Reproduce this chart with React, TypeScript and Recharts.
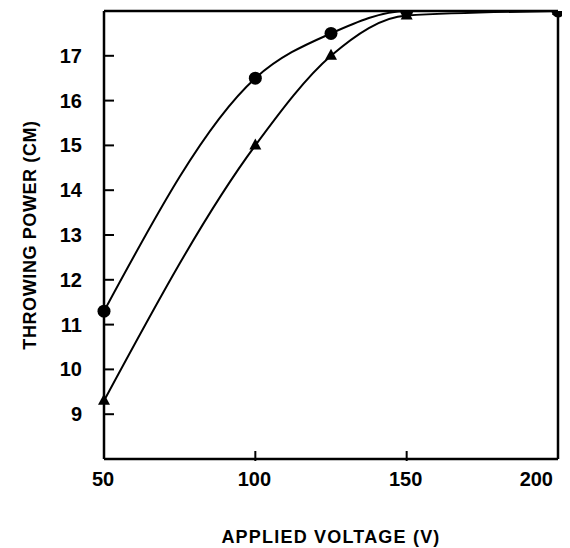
import { LineChart, Line, XAxis, YAxis, ReferenceLine } from "recharts";

const voltage = [50, 100, 125, 150, 200];
const circleSeries = [11.3, 16.5, 17.5, 18, 18];
const triangleSeries = [9.3, 15.0, 17.0, 17.9, 18];
const xTicks = [50, 100, 150, 200];
const yTicks = [9, 10, 11, 12, 13, 14, 15, 16, 17];

const data = voltage.map((v, i) => ({
  v,
  circle: circleSeries[i],
  triangle: triangleSeries[i],
}));

const FONT = "'Liberation Sans', Arial, sans-serif";
const TICK_GAP = 22;

const YTick = ({ x, y, payload }: any) => (
  <g>
    <line
      x1={x + TICK_GAP}
      x2={x + TICK_GAP + 10}
      y1={y}
      y2={y}
      stroke="#000"
      strokeWidth={2}
    />
    <text
      x={x}
      y={y}
      textAnchor="end"
      dominantBaseline="central"
      fontFamily={FONT}
      fontWeight="bold"
      fontSize={20}
      fill="#000"
    >
      {payload.value}
    </text>
  </g>
);

const XTick = ({ x, y, payload }: any) => {
  const last = payload.value === xTicks[xTicks.length - 1];
  return (
    <g>
      {payload.value !== 50 && !last && (
        <line
          x1={x}
          x2={x}
          y1={y}
          y2={y - 10}
          stroke="#000"
          strokeWidth={2}
        />
      )}
      <text
        x={last ? x + 3 : x - 1}
        y={y + 18}
        textAnchor={last ? "end" : "middle"}
        dominantBaseline="central"
        fontFamily={FONT}
        fontWeight="bold"
        fontSize={20}
        fill="#000"
      >
        {payload.value}
      </text>
    </g>
  );
};

const YLabel = ({ viewBox }: any) => {
  const cx = viewBox.x + 22;
  const cy = viewBox.y + viewBox.height / 2;
  return (
    <text
      x={cx}
      y={cy}
      transform={`rotate(-90, ${cx}, ${cy})`}
      textAnchor="middle"
      dominantBaseline="central"
      fontFamily={FONT}
      fontWeight="bold"
      fontSize={18}
      letterSpacing={0.6}
      fill="#000"
    >
      THROWING POWER (CM)
    </text>
  );
};

const XLabel = ({ viewBox }: any) => {
  const cx = viewBox.x + viewBox.width / 2;
  const cy = viewBox.y + 78;
  return (
    <text
      x={cx}
      y={cy}
      textAnchor="middle"
      dominantBaseline="central"
      fontFamily={FONT}
      fontWeight="bold"
      fontSize={18}
      letterSpacing={1.2}
      fill="#000"
    >
      APPLIED VOLTAGE (V)
    </text>
  );
};

const TriangleDot = ({ cx, cy }: any) => {
  if (cx == null || cy == null) return null;
  return (
    <polygon
      points={`${cx},${cy - 7} ${cx - 6},${cy + 4} ${cx + 6},${cy + 4}`}
      fill="#000"
    />
  );
};

export default function App() {
  return (
    <LineChart
      width={554}
      height={540}
      data={data}
      margin={{ top: 3, right: 4, left: 0, bottom: 0 }}
    >
      <XAxis
        dataKey="v"
        type="number"
        domain={[50, 200]}
        ticks={xTicks}
        height={89}
        tickSize={0}
        tickLine={false}
        tick={<XTick />}
        axisLine={{ stroke: "#000", strokeWidth: 2.5 }}
        label={<XLabel />}
      />
      <YAxis
        type="number"
        domain={[8, 18]}
        allowDataOverflow
        ticks={yTicks}
        width={96}
        tickSize={0}
        tickMargin={TICK_GAP}
        tickLine={false}
        tick={<YTick />}
        axisLine={{ stroke: "#000", strokeWidth: 2.5 }}
        label={<YLabel />}
      />
      <ReferenceLine y={18} stroke="#000" strokeWidth={2.5} />
      <ReferenceLine x={200} stroke="#000" strokeWidth={2.5} />
      <Line
        dataKey="circle"
        type="monotone"
        stroke="#000"
        strokeWidth={2}
        dot={{ r: 6.5, fill: "#000", stroke: "none" }}
        isAnimationActive={false}
      />
      <Line
        dataKey="triangle"
        type="monotone"
        stroke="#000"
        strokeWidth={2}
        dot={<TriangleDot />}
        isAnimationActive={false}
      />
    </LineChart>
  );
}
